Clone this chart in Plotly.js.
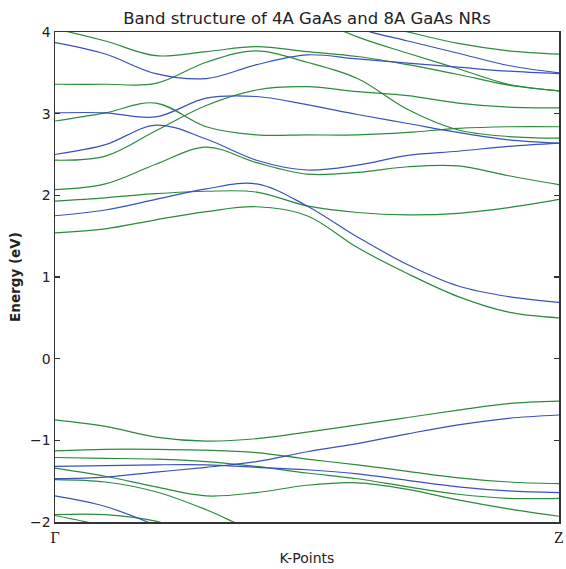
<!DOCTYPE html>
<html>
<head>
<meta charset="utf-8">
<script src="https://cdn.plot.ly/plotly-3.0.1.min.js"></script>
<style>html,body{margin:0;padding:0;background:#fff;}#plot{width:566px;height:569px;}</style>
</head>
<body>
<div id="plot"></div>
<script>
// k-path sample positions (Γ = 0, Z = 1)
const kPoints = [0, 0.1, 0.2, 0.3, 0.4, 0.5, 0.6, 0.7, 0.8, 0.9, 1.0];
const kTickVals = [0, 1];
const kTickText = ['Γ', 'Z'];

// 4A GaAs NR bands (blue), energies in eV
const blueC1 = [1.75, 1.82, 1.95, 2.08, 2.14, 1.87, 1.49, 1.15, 0.89, 0.76, 0.69];
const blueC2 = [2.50, 2.62, 2.86, 2.69, 2.43, 2.31, 2.37, 2.49, 2.54, 2.60, 2.64];
const blueC3 = [3.01, 3.01, 2.96, 3.19, 3.21, 3.11, 2.99, 2.88, 2.77, 2.68, 2.64];
const blueC4 = [3.87, 3.73, 3.49, 3.43, 3.60, 3.72, 3.67, 3.62, 3.57, 3.52, 3.49];
const blueC5 = [null, null, null, null, null, 4.34, 4.05, 3.89, 3.74, 3.59, 3.50];
const blueV1 = [-1.47, -1.45, -1.39, -1.33, -1.26, -1.14, -1.04, -0.92, -0.81, -0.73, -0.69];
const blueV2 = [-1.32, -1.31, -1.30, -1.30, -1.33, -1.36, -1.41, -1.49, -1.57, -1.62, -1.64];
const blueV3 = [-1.68, -1.81, -2.04, -2.30, null, null, null, null, null, null, null];

// 8A GaAs NR bands (green), energies in eV
const greenC1 = [1.54, 1.59, 1.70, 1.80, 1.86, 1.75, 1.36, 1.04, 0.76, 0.57, 0.50];
const greenC2 = [1.93, 1.97, 2.02, 2.05, 2.04, 1.87, 1.79, 1.76, 1.78, 1.85, 1.95];
const greenC3 = [2.07, 2.14, 2.38, 2.59, 2.40, 2.26, 2.28, 2.35, 2.36, 2.24, 2.13];
const greenC4 = [2.43, 2.48, 2.79, 3.10, 3.29, 3.33, 3.27, 3.22, 3.13, 3.08, 3.07];
const greenC5 = [2.91, 3.01, 3.13, 2.84, 2.74, 2.74, 2.74, 2.77, 2.82, 2.84, 2.84];
const greenC6 = [3.36, 3.36, 3.37, 3.63, 3.77, 3.63, 3.43, 3.05, 2.80, 2.72, 2.70];
const greenC7 = [4.04, 3.89, 3.71, 3.76, 3.82, 3.76, 3.70, 3.60, 3.48, 3.35, 3.28];
const greenC8 = [null, null, null, null, null, 4.21, 3.94, 3.74, 3.55, 3.36, 3.28];
const greenC9 = [null, null, null, null, null, null, 4.15, 4.00, 3.86, 3.77, 3.73];
const greenV1 = [-0.75, -0.83, -0.96, -1.01, -0.98, -0.90, -0.81, -0.72, -0.63, -0.55, -0.52];
const greenV2 = [-1.13, -1.11, -1.11, -1.12, -1.15, -1.23, -1.30, -1.38, -1.46, -1.51, -1.53];
const greenV3 = [-1.21, -1.22, -1.23, -1.26, -1.32, -1.40, -1.47, -1.57, -1.66, -1.71, -1.71];
const greenV4 = [-1.34, -1.44, -1.57, -1.68, -1.64, -1.55, -1.52, -1.60, -1.73, -1.84, -1.93];
const greenV5 = [-1.48, -1.51, -1.63, -1.85, -2.12, -2.30, null, null, null, null, null];
const greenV6 = [-1.91, -1.91, -1.99, -2.20, null, null, null, null, null, null, null];
const greenV7 = [-1.92, -2.05, -2.20, null, null, null, null, null, null, null, null];

const blueBands = [blueC1, blueC2, blueC3, blueC4, blueC5, blueV1, blueV2, blueV3];
const greenBands = [greenC1, greenC2, greenC3, greenC4, greenC5, greenC6, greenC7, greenC8, greenC9,
                    greenV1, greenV2, greenV3, greenV4, greenV5, greenV6, greenV7];

const BLUE = '#3a52b4';
const GREEN = '#2b8a3c';

const traces = [];
greenBands.forEach(function (e) {
  traces.push({x: kPoints, y: e, type: 'scatter', mode: 'lines', name: '8A GaAs',
    showlegend: false, hoverinfo: 'skip',
    line: {color: GREEN, width: 1.2, shape: 'spline', smoothing: 1}});
});
blueBands.forEach(function (e) {
  traces.push({x: kPoints, y: e, type: 'scatter', mode: 'lines', name: '4A GaAs',
    showlegend: false, hoverinfo: 'skip',
    line: {color: BLUE, width: 1.2, shape: 'spline', smoothing: 1}});
});

const layout = {
  width: 566, height: 569,
  margin: {l: 55, r: 7, t: 32, b: 47},
  paper_bgcolor: '#fff', plot_bgcolor: '#fff',
  showlegend: false,
  title: {text: 'Band structure of 4A GaAs and 8A GaAs NRs',
    font: {family: 'DejaVu Sans', size: 16.5, color: '#222'},
    x: 0.5, xref: 'paper', xanchor: 'center', y: 1 - 18 / 569, yref: 'container', yanchor: 'middle'},
  xaxis: {range: [0, 1], tickvals: kTickVals, ticktext: kTickText,
    tickfont: {family: 'Liberation Serif', size: 16, color: '#222'},
    ticklabeloverflow: 'allow',
    ticks: '', showgrid: false, zeroline: false,
    showline: true, mirror: true, linecolor: '#333', linewidth: 1.5,
    title: {text: 'K-Points', font: {family: 'DejaVu Sans', size: 14, color: '#222'}, standoff: 8}},
  yaxis: {range: [-2, 4], tickvals: [-2, -1, 0, 1, 2, 3, 4],
    tickfont: {family: 'DejaVu Sans', size: 14, color: '#222'},
    ticks: 'inside', ticklen: 5, tickcolor: '#333', tickwidth: 1.2,
    showgrid: false, zeroline: false,
    showline: true, mirror: 'ticks', linecolor: '#333', linewidth: 1.5,
    title: {text: '<b>Energy (eV)</b>', font: {family: 'DejaVu Sans', size: 13.5, color: '#222'}, standoff: 6}}
};

Plotly.newPlot('plot', traces, layout, {displayModeBar: false, staticPlot: true});
</script>
</body>
</html>
